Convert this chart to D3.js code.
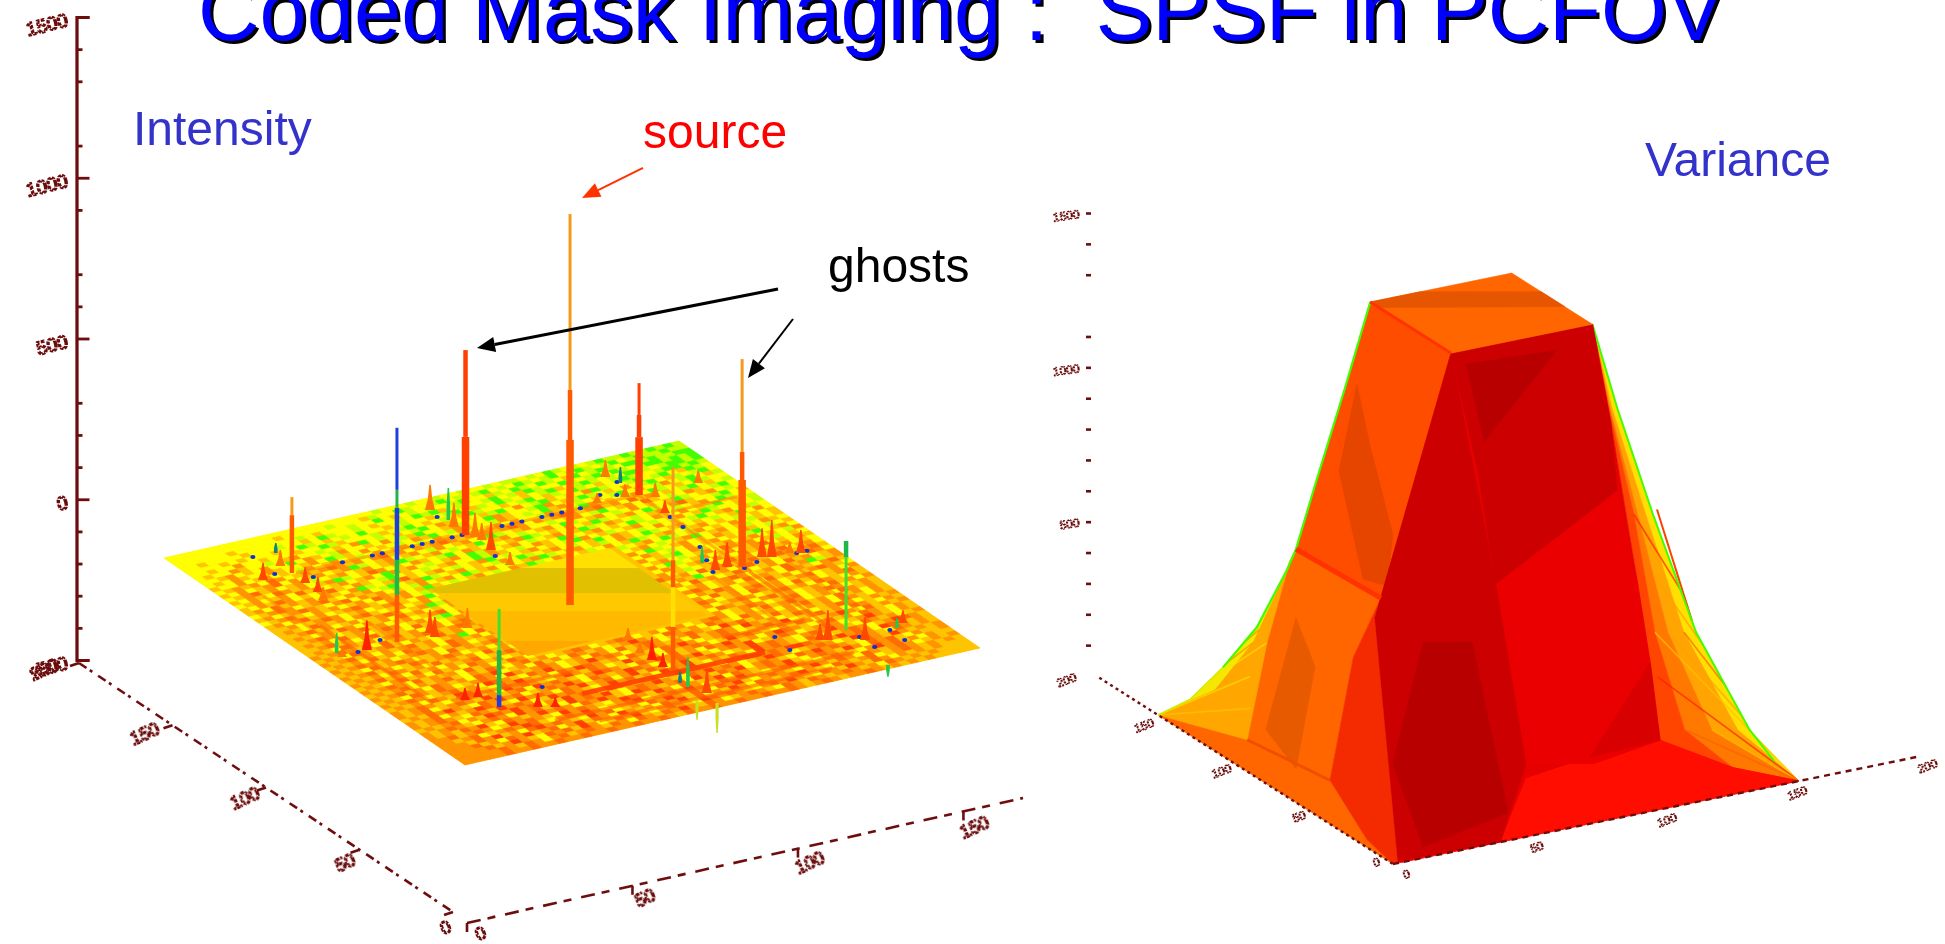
<!DOCTYPE html>
<html>
<head>
<meta charset="utf-8">
<title>Coded Mask Imaging</title>
<script src="https://cdn.jsdelivr.net/npm/d3@7"></script>
<style>
html, body { margin: 0; padding: 0; background: #fff; overflow: hidden; }
text { font-family: "Liberation Sans", Arial, sans-serif; white-space: pre; }
.tick-label { fill: none; stroke: #6a0c0c; stroke-linejoin: round; }
</style>
</head>
<body>
<svg id="chart" width="1945" height="944"></svg>
<script>
// ---- texts
var titleText = "Coded Mask Imaging :  SPSF in PCFOV";

// ---- intensity plot: axis values
var zMajor = [1500, 1000, 500, 0, -500];
var zMinor = [1400, 1300, 1100, 900, 700, 600, 300, 200, 100, -100, -200, -300, -400];
var uLabels = [0, 50, 100, 150, 200];
var vLabels = [0, 50, 100, 150];

// surface colour bins, one letter per cell.
// rows run from the far-left edge (u max) to the near-right edge (u 0), columns from v 0 to v max.
// the cell level speckle is only an estimate of the look, the picture is too blurred to read it
var surfaceRows = [
"yyyyyyyyyy yyyyyyyyyy yyyylyyyly ylyylyylyl lylyglylyl gllgllglgl",
"yyyyyyyyyy yyayyyyyly yyalyyglyy lgylylgyly glylgylgly lgylgllgll",
"yyyyyyayyy yyyylyayyy lyygyaylyl yylgyyalyg lyglyagylg lygglgllgg",
"yyayyyyayy ylyyayglyy lyayylyglg aylyylgyla glyyglylgy glylgglglg",
"yyyyayayyy ayyglyayly gyyaylyyay lgyalyglya ylgaylglyl ygglylgglg",
"yyayyoyyay yyayyglayy ylaylgyayl yaglyyaylg yalyglyayl glyylgglgl",
"yayyoayyly aoyylyayog ylyaylgyoa ylyalgyoyl gaylyoglyy lgylgyagly",
"yyaoyayoyy gyoayloyya yoylagyyao lyygoayylg oyalglyayo ylgyalylgy",
"yayoayyoay yaoyglayoy aylyoagylo ayyloaylyg aoylyaylgy ayloylgyal",
"ayyoyaoyay loyaoyalyo yaoylyoayo lyaoyoyylo aylgoyaylo yglyayglyy",
"yaoaoydoya oaodoaoyod aoyoaodoao yoaodoyoao doaodaoyda oyaylgyayl",
"ayoyaodyoy aoyaoglyao yaoyloyaoy aglyaoyyly aoylgyaoyd aylyoaylgy",
"yaodaoyaoy lyaoyaoyao glyaoylyag yaoylyaoyg lyaoylyoya yaglyaoyly",
"ayoaydoaoy aoglyadoya yoaylgyoay lyaoglyayo yaglyaoygl yodayylgya",
"yaoyaoydao yaoyaoygoa oylyaoyglo yaoylyaoya glyoaylyao ylyaoyglyy",
"ayoadoyayo dayoaylgya ylyaoyyglo aylyoaygly aoyayglyoa yoyalgyayl",
"aoydaoaoyo ayoglyaoda yaoylyaogy lyaoyaylgo yalyaoylya oyaglyyayl",
"yaodoyaoda yoaoylgyao glyaoyaylo yglyaoylya gyoaylyoya ylgyaoyaly",
"aoyaodoayo dyoaoyaylo yaoyglaoyl yaoglyaoya lyoayglyao yaylyagyoy",
"yaodayoaoy aoydoaoyag aylyaoylyo aglyoayaly oyaglyaoyl aoyaylyaya",
"aoyodaoyao doayoaoyla aaaaaaaaaa aaaaaaaaaa alyaoyglya oyayoylaya",
"aaoyaodoya oyaodayogy aaaaaaaaaa aaaaaaaaaa ayaoylyaog yaoyalyoay",
"aoaydoaoyo dayaoyaoya aaaaaaaaaa aaaaaaaaaa aoyglyaoya yoayoaylya",
"aaodaoyaoy aodoyaoglo aaaaaaaaaa aaaaaaaaaa ayoaylyoya oyaylgyaoy",
"aoayoadoyo aoydaoyayo aaaaaaaaaa aaaaaaaaaa aoyalgyoay aoyaoyaylo",
"aaodoyaoda oyaoyaodya aaaaaaaaaa aaaaaaaaaa ayaoylyaoy doaoyalyay",
"aoaoydaoya doyaoylgyo aaaaaaaaaa aaaaaaaaaa aoyglyaoya oyaodyayoa",
"aaodaoyoda oaydaoyaoa aaaaaaaaaa aaaaaaaaaa ayoayaoyoa ydaoyaoyay",
"aoaydoaoyo daoyaoyoda aaaaaaaaaa aaaaaaaaaa aoyalyaoyd aoyaodyaoy",
"oaodoaoyda oaodoaodoa aaaaaaaaaa aaaaaaaaaa doaoydaoda odaydoaoda",
"aoaydoaoda yoaydaoyao aaaaaaaaaa aaaaaaaaaa ayoagyaoyo daoyaoydoy",
"oaodaoyoao daoyaogyda aaaaaaaaaa aaaaaaaaaa aoydaoyado yaoydaoyao",
"aoaoydaoyd oaoydoaoyo aaaaaaaaaa aaaaaaaaaa ayaoyaodoy aoydaoglao",
"oaodoaoyao doyadoyaoa aaaaaaaaaa aaaaaaaaaa aodoyaoyda oaydoayoda",
"aoaydaodoy aoydaoaoda aaaaaaaaaa aaaaaaaaaa ayoadoyaoy daoyaodoay",
"oaodaoyado aodoyaoyoa aaaaaaaaaa aaaaaaaaaa aoydaoyoda oyaodyaoyo",
"aoaoydoaoy daoaoydaoy aaaaaaaaaa aaaaaaaaaa adoyaoydoa oydaoyaoda",
"oaodaoydao yoaodyaoda aaaaaaaaaa aaaaaaaaaa aoyaodoyao daoydoayoa",
"aoayodaoyd aoydoaoyao aaaaaaaaaa aaaaaaaaaa aydoaoyoda oyaoydaoyo",
"oaodoydaoa oydaoyadoy aaaaaaaaaa aaaaaaaaaa aoyaodoyao dyaodoyaoa",
"aoaodyoaod ayoadoyoda oyaodoyaod oyaoydoyao doyaoydaod oyaoydoaoa",
"oaodaoydoa oydoryaoyd aoydoaoyao roaydoaoyd oaydoaoyoa daoydaoyoa",
"aoaydoadoy aodoyroaod oyaoydoyda odoyaodoay rodaoydaoy oaoydoayoa",
"oaodoyaoda oyrdoaydor oyaorodoya odoaoydaod oyroaoyado yaodoyaoao",
"aoaoydoard oaydoroaoy dordoaoydo aydoroyaod oyaodoryao daoydoayoa",
"oaodoayord aoyrodoayo roadoyaroa oydaodoyar odoayoadoy aoroydaoao",
"oaodyaodoa roaodyrodo ayordoaydo rodaoydoro aoyordoayo daoydoayoa",
"aoadoroayd orodyaodor oydoaordoy aodorayodo ryaodoyaod oyaoroayoa",
"oaodyoaord oayrodoydo raodyorado yoraodoyao rodoayodor oaydoaoyao",
"oaodoaydoa rodoyarodo ayorodaoyr dorayoadoy rodoaydoya odoyaordoa",
"aoaodyoard orodyoarod oyrdoaodyo rodoaydorr odorrdoaor odoyrdoaoa",
"oaodoayodo yrodaoyrod orayodoroa ydorodoyao rdoyaodoya rdoaydoaoa",
"oaoadorayd oaorodoydo roayrdoaod yroadoryod oaydorodoa ydoaroaoao",
"oodaodoyar odoayrodoa yordoaroyd oaorydoaod orayodoaro ydodayoaao",
"ooaodyaodo rdayodoroy aodryaodor oyadoroayo droayodoay orodaoyoaa",
"oooadoraoy drodoayrod yaoydoroad oydorayodo ayoroadoyd oaodoyaoao",
"ooodaoydor aodyoradoy roaoydorad yoaroydoao droaydoaod yaodoaoaoa",
"oooodaoroa ydodaroyad orayodoayr dodoayodor oaydoaroad oyoaoaoaaa",
"ooooodoado yodaodoado ydoadoroad oyaodoaydo adoaodoaoy doaoaoaaaa",
"ooooodoodo odoodoodoo doodoadood oodoodoodo aodoaoodoa oaoaoaaaaa"
];

// flat centre square of the surface, and the levels of its colour bands
var flatCorners = [[107, 50], [107, 104], [55, 104], [55, 50]];
var flatBandTop = [-150, -214, -292, -348, -441];
var flatBandBottom = [-214, -292, -348, -441, -500];
var flatBandName = ["yellow", "olive", "gold", "amber", "deep"];

// ridges lying on the surface
var ridgeU0 = [134, 134, 26, 14, 8, 100, 100, 75, 75, 75, 40, 40, 125, 120];
var ridgeV0 = [25, 128, 50, 35, 45, 25, 13, 128, 118, 140, 20, 100, 10, 130];
var ridgeU1 = [134, 80, 26, 14, 8, 53, 40, 35, 35, 35, 40, 40, 90, 120];
var ridgeV1 = [128, 128, 105, 125, 115, 25, 13, 128, 118, 140, 55, 125, 10, 150];
var ridgeKind = ["soft", "soft", "strong", "mid", "mid", "soft", "mid", "mid", "soft", "soft", "mid", "mid", "soft", "soft"];

// the tall peaks: source and ghosts, each cut in segments from base to tip
var peakU = [79.1, 133.6, 78.4, 133.9, 80.5, 134.4, 29.2, 27.7, 28.1];
var peakV = [76.4, 75.8, 127.8, 128.2, 25.1, 24, 26.8, 78.3, 130.6];
var peakTops = [
	[513, 669, 1216],
	[305, 575],
	[271, 358, 647],
	[180, 249, 348],
	[146, 255, 417, 473, 666],
	[180, 236],
	[37, 177, 305],
	[134, 258, 342, 632],
	[227, 277]
];
var peakKinds = [
	["wo", "mo", "ta"],
	["wr", "mr"],
	["wo", "mo", "ta"],
	["wr", "mr", "tr"],
	["mo", "mg", "mb", "tg", "tb"],
	["mo", "ta"],
	["mb", "mg", "tG"],
	["mo", "my", "mo", "ta"],
	["tG", "mg"]
];

// the short peaks
var smallU = [152.8, 144.5, 139.8, 131.2, 128.5, 121.5, 110.3, 148.1, 140, 134.2, 126.8, 119.9, 114.6, 79.7, 82, 78.9, 81.3, 78.4, 79.3, 37.8, 37.8, 24.1, 21.8, 51.1, 42, 36.3, 30.8, 15.9, 9.9, 19.2, 148.8, 143.3, 134.6, 134.8, 130.6, 120, 133, 80.3, 80.4, 86.1, 81.6, 80.3, 80.3, 78.8, 24.7, 25.7, 19.8, 24.7, 22.6, 2.7, 7.2, 2.3];
var smallV = [76, 76.8, 75.8, 77.3, 77.8, 76.6, 76, 26.9, 23.7, 15.2, 23.7, 23.6, 22.2, 15.6, 7.8, 7.7, 35.5, 35.3, 45.6, 25.3, 21.4, 35.6, 39.5, 78, 76.4, 76.8, 77, 76.1, 78.4, 75.6, 126.5, 127.9, 124.4, 116.1, 131.2, 128.1, 145.5, 120.8, 124.4, 120.1, 135.6, 137.8, 143.2, 145.7, 123.2, 121.4, 131.6, 145.8, 142.8, 77.4, 73.9, 128.6];
var smallZ = [78, 100, 75, 75, 53, 87, 40, 31, 50, 53, 50, 47, 40, 93, 62, 31, 72, 62, 62, 44, 37, 44, 31, 37, 37, 72, 44, 93, 78, 37, 53, 50, 40, 31, 44, 40, 40, 62, 78, 50, 90, 115, 34, 72, 93, 50, 72, 40, 31, -93, -62, -37];
var smallCode = ["o","g","o","o","o","r","o","t","o","r","r","r","o","x","g","o","r","r","o","x","x","x","x","o","o","x","x","g","r","t","o","t","o","o","o","r","o","r","r","g","r","r","o","r","r","r","r","r","g","k","k","g"];

// blue pits
var pitU = [134, 134, 134, 134, 134, 134, 134, 134, 134, 134, 134, 134, 134, 134, 134, 117, 109.5, 95.7, 87, 79.4, 77.5, 79.4, 79.4, 79.3, 22.3, 14.5, 14.6, 22.3, 33.5, 23.9, 35.1, 148.8, 136.1, 129.2, 117.4, 147.8, 83.8, 79.8, 139, 136.9, 144.4];
var pitV = [39, 48, 51, 60, 63, 66, 72, 75, 87, 90, 93, 99, 102, 105, 110.6, 128, 127.6, 124.9, 122, 119.6, 128, 132.8, 144.8, 147.8, 131.4, 131.5, 140.6, 140.5, 112.2, 111.3, 43.1, 20.4, 19.8, 27.5, 75.6, 75.3, 21.9, 13, 119.3, 123.2, 127.5];

// ---- variance plot: axis values
var varZTicks = [1500, 1400, 1300, 1100, 1000, 900, 800, 700, 600, 500, 400, 300, 200, 100];
var varZLabels = [1500, 1000, 500];
var varULabels = [0, 50, 100, 150, 200];
var varVLabels = [0, 50, 100, 150, 200];

// variance surface as facets, vertices are [u, v, value]
var varPlate = [[110, 53, 1400], [110, 107, 1400], [55, 107, 1400], [55, 53, 1400]];
var varPlateBand = [[110, 53, 1400], [110, 72, 1400], [90, 107, 1400], [74, 107, 1400], [104, 53, 1400]];
var varLeftUpper = [[110, 53, 1400], [106.3, 41.2, 1150], [120.2, 37.6, 800], [121.7, 31.2, 600], [67.8, 33.4, 600], [55, 53, 1400]];
var varLeftStreak = [[108.4, 47, 1150], [115.4, 44.1, 850], [86.2, 36.9, 600], [76.6, 40.7, 600], [79.6, 44.6, 750], [84.4, 38.2, 1050]];
var varLeftLower = [[121.7, 31.2, 600], [124, 29.1, 530], [129.8, 20.8, 340], [137.9, 12.4, 200], [152.3, 7.9, 60], [160, 0, 0], [0, 0, 0], [21.4, 2.1, 10], [58.4, 8.7, 80], [94.3, 37.7, 320], [67.8, 33.4, 600]];
var varLowerStreak = [[116, 28, 400], [115.3, 16.1, 60], [83.5, 9.8, 40], [98.2, 25.3, 300]];
var varBaseStreak = [[117.6, 10.3, 30], [58.4, 8.7, 80]];
var varLeftRidge = [[67.8, 33.4, 600], [94.3, 37.7, 320], [58.4, 8.7, 80], [21.4, 2.1, 10], [0, 0, 0], [2, 3, 0], [65.6, 29.9, 550]];
var varLeftEdge = [[121.7, 31.2, 600], [124, 29.1, 530], [129.8, 20.8, 340], [137.9, 12.4, 200], [152.3, 7.9, 60], [160, 0, 0]];
var varLeftChain1 = [[121.1, 28.6, 570], [122.7, 27.6, 520], [128, 18.4, 300], [140.8, 11, 120], [160, 0, 0]];
var varLeftChain2 = [[121.1, 28.6, 570], [125.7, 22.4, 300], [117.6, 10.3, 30], [160, 0, 0]];
var varLeftFanEnds = [[125.7, 22.4, 300], [128, 18.4, 300], [122.7, 27.6, 520], [126, 16, 200], [125, 19, 350], [120, 13, 120]];
var varRightEdge = [[55, 107, 1400], [45.7, 111.2, 1150], [40.6, 122, 800], [25.3, 129.9, 450], [17.2, 145.8, 130], [0, 155, 0]];
var varRightChain1 = [[55, 107, 1400], [46.6, 109.7, 1150], [41.7, 119.9, 800], [27.3, 126.4, 450], [19.2, 142.4, 130], [0, 155, 0]];
var varRightChain2 = [[55, 107, 1400], [46.9, 109.1, 1150], [43.1, 117.6, 800], [30, 121.8, 450], [23.5, 134.9, 130], [0, 155, 0]];
var varRightChain3 = [[55, 107, 1400], [47, 108.8, 1150], [43.7, 116.5, 800], [32.1, 118, 450], [28, 127.1, 130], [16.7, 139.2, 20], [0, 155, 0]];
var varRightInner = [[55, 107, 1400], [46.7, 109.4, 1100], [27.7, 108.7, 650], [29.5, 115, 350], [36.1, 122.2, 80], [16.7, 139.2, 20], [0, 155, 0]];
var varRightFanEnds = [[30, 121.8, 450], [43.7, 116.5, 800], [32.1, 118, 450], [27.3, 126.4, 450], [36.8, 120, 620], [33, 119.5, 300], [23.5, 134.9, 130], [28, 127.1, 130]];
var varRightRim = [[43.9, 125.4, 800], [35.7, 134.1, 450]];
var varFront = [[55, 53, 1400], [55, 107, 1400], [46.7, 109.4, 1100], [27.7, 108.7, 650], [29.5, 115, 350], [36.1, 122.2, 80], [16.7, 139.2, 20], [0, 155, 0], [0, 0, 0], [2, 3, 0], [65.6, 29.9, 550], [67.8, 33.4, 600]];
var varFrontUpper = [[55, 53, 1400], [55, 107, 1400], [46.7, 109.4, 1100], [28.6, 101.6, 950], [47.9, 66.1, 650], [54.9, 63.2, 1000]];
var varFrontDark = [[56.1, 59.4, 1350], [52.4, 91.9, 1350], [65.3, 71.4, 1050]];
var varFrontBand = [[55, 53, 1400], [47.9, 66.1, 650], [8.8, 55.7, 200], [0, 41, 0], [2, 3, 0], [65.6, 29.9, 550]];
var varFrontPatch = [[50.2, 39.7, 500], [42.1, 53.8, 500], [12.6, 51, 40], [6.4, 15.1, 10], [30.9, 17.3, 200]];
var varFrontRight = [[47.9, 66.1, 650], [28.6, 101.6, 950], [27.7, 108.7, 650], [29.5, 115, 350], [36.1, 122.2, 80], [15.5, 85, 130], [23.7, 70.9, 130], [8.8, 55.7, 200]];
var varFrontRightDark = [[21.7, 87.4, 130], [36.1, 122.2, 80], [33, 116.6, 350]];
var varFrontBase = [[32.3, 68.9, 60], [21.7, 87.4, 130], [36.1, 122.2, 80], [16.7, 139.2, 20], [0, 155, 0], [0, 0, 0], [0, 41, 0]];
var varCrease = [[121.7, 31.2, 600], [67.8, 33.4, 600]];
var varPlateEdge = [[110, 53, 1400], [55, 53, 1400]];
var varGreenLeft = [[110, 53, 1400], [106.3, 41.2, 1150], [120.2, 37.6, 800], [121.7, 31.2, 600], [124, 29.1, 530], [129.8, 20.8, 340], [137.9, 12.4, 200]];
var varYellowLeft = [[137.9, 12.4, 200], [152.3, 7.9, 60], [160, 0, 0]];
var varGreenRight = [[55, 107, 1400], [45.7, 111.2, 1150], [40.6, 122, 800], [25.3, 129.9, 450], [17.2, 145.8, 130], [8, 150, 50]];

// ---- styles
var brown = "#6e0e0e";
var cellColor = { y: "#ffff00", l: "#c4ff00", g: "#40ff00", a: "#ffc400", o: "#ff9400", d: "#ff6c00", r: "#ff4000" };
var bandColor = { yellow: "#ffe000", olive: "#e0c000", gold: "#ffc800", amber: "#ffba00", deep: "#ffa800" };
var ridgeStyle = { soft: ["#ff8000", 3, 0.55], mid: ["#ff6000", 3.5, 0.6], strong: ["#ff4000", 5, 0.9] };
var peakWidth = { t: 3, m: 4.5, w: 7.5 };
var peakColor = { o: "#ff5a00", a: "#f59a1e", r: "#ff4000", b: "#1f3fe0", g: "#1fb848", G: "#3fe030", y: "#ffe000" };
var smallColor = { o: "#ff7800", r: "#ff4800", x: "#ff2400", g: "#20c850", t: "#148080", k: "#c8e020" };
var smallWidth = { g: 1.8, t: 1.8, k: 1.6 };

var svg = d3.select("#chart");
var defs = svg.append("defs");
defs.append("filter").attr("id", "soft").attr("x", "-5%").attr("y", "-5%").attr("width", "110%").attr("height", "110%")
	.append("feGaussianBlur").attr("stdDeviation", 0.7);
defs.append("filter").attr("id", "softer").attr("x", "-5%").attr("y", "-5%").attr("width", "110%").attr("height", "110%")
	.append("feGaussianBlur").attr("stdDeviation", 0.75);

// ---- intensity plot
var zAxisScale = d3.scaleLinear().domain([-500, 1500]).range([660, 17]);

// the surface is a tilted plane, so u, v and z each shift the screen position by their own scale
var ux = d3.scaleLinear().domain([0, 160]).range([465, 164]);
var uy = d3.scaleLinear().domain([0, 160]).range([0, -207]);
var vx = d3.scaleLinear().domain([0, 155]).range([0, 515]);
var vy = d3.scaleLinear().domain([0, 155]).range([765, 648]);
var zy = d3.scaleLinear().domain([0, 2000]).range([0, -643]);

function project(u, v, z) {
	return [ux(u) + vx(v), uy(u) + vy(v) + zy(z || 0)];
}
var line = d3.line();

var left = svg.append("g").attr("class", "intensity");

var surface = left.append("g").attr("filter", "url(#softer)");
var nRows = surfaceRows.length;

surface.append("path")
	.attr("d", line([project(160, 0), project(160, 155), project(0, 155), project(0, 0)]) + "Z")
	.attr("fill", cellColor.a);

var cells = [];
surfaceRows.forEach(function(row, i) {
	var codes = row.split(" ").join("").split("");
	codes.forEach(function(code, j) {
		if (!cellColor[code]) return;
		var u0 = 160 * (1 - i / nRows), u1 = 160 * (1 - (i + 1) / nRows);
		var v0 = 155 * j / codes.length, v1 = 155 * (j + 1) / codes.length;
		cells.push({ code: code, d: [project(u0, v0), project(u0, v1), project(u1, v1), project(u1, v0)] });
	});
});
surface.selectAll("path.cell").data(cells).enter().append("path")
	.attr("class", "cell")
	.attr("d", function(d) { return line(d.d) + "Z"; })
	.attr("fill", function(d) { return cellColor[d.code]; })
	.attr("stroke", function(d) { return cellColor[d.code]; })
	.attr("stroke-width", 0.6);

var ridges = d3.range(ridgeU0.length).map(function(i) {
	return { a: project(ridgeU0[i], ridgeV0[i]), b: project(ridgeU1[i], ridgeV1[i]), kind: ridgeKind[i] };
});
surface.selectAll("line.ridge").data(ridges).enter().append("line")
	.attr("class", "ridge")
	.attr("x1", function(d) { return d.a[0]; }).attr("y1", function(d) { return d.a[1]; })
	.attr("x2", function(d) { return d.b[0]; }).attr("y2", function(d) { return d.b[1]; })
	.attr("stroke", function(d) { return ridgeStyle[d.kind][0]; })
	.attr("stroke-width", function(d) { return ridgeStyle[d.kind][1]; })
	.attr("stroke-opacity", function(d) { return ridgeStyle[d.kind][2]; });

// flat centre with its horizontal colour bands
var flatClip = defs.append("clipPath").attr("id", "flat");
flatClip.append("path").attr("d", line(flatCorners.map(function(c) { return project(c[0], c[1]); })) + "Z");
left.append("g").attr("clip-path", "url(#flat)").attr("filter", "url(#soft)")
	.selectAll("rect").data(flatBandName).enter().append("rect")
	.attr("x", 400).attr("width", 340)
	.attr("y", function(d, i) { return zAxisScale(flatBandTop[i]); })
	.attr("height", function(d, i) { return zAxisScale(flatBandBottom[i]) - zAxisScale(flatBandTop[i]) + 1; })
	.attr("fill", function(d) { return bandColor[d]; });

var marks = left.append("g").attr("filter", "url(#soft)");

marks.selectAll("ellipse").data(d3.range(pitU.length)).enter().append("ellipse")
	.attr("cx", function(i) { return project(pitU[i], pitV[i])[0]; })
	.attr("cy", function(i) { return project(pitU[i], pitV[i])[1]; })
	.attr("rx", 2.6).attr("ry", 2)
	.attr("fill", "#1030d0");

// short peaks and tall peaks together, far ones first
var spikes = [];
d3.range(smallU.length).forEach(function(i) {
	var b = project(smallU[i], smallV[i], 0), t = project(smallU[i], smallV[i], smallZ[i]);
	var w = smallWidth[smallCode[i]] || 5;
	var my = b[1] + (t[1] - b[1]) * 0.45, mw = Math.min(w, 2.2);
	spikes.push({
		y: b[1],
		d: line([[b[0] - w, b[1]], [b[0] - mw, my], [b[0] - 0.7, t[1]], [b[0] + 0.7, t[1]], [b[0] + mw, my], [b[0] + w, b[1]]]) + "Z",
		color: smallColor[smallCode[i]]
	});
});
d3.range(peakU.length).forEach(function(i) {
	var prev = 0;
	peakTops[i].forEach(function(top, k) {
		var b = project(peakU[i], peakV[i], prev), t = project(peakU[i], peakV[i], top);
		var w = peakWidth[peakKinds[i][k][0]] / 2;
		spikes.push({
			y: project(peakU[i], peakV[i], 0)[1] + k * 0.01,
			d: line([[b[0] - w, b[1]], [b[0] - w, t[1]], [b[0] + w, t[1]], [b[0] + w, b[1]]]) + "Z",
			color: peakColor[peakKinds[i][k][1]]
		});
		prev = top;
	});
});
spikes.sort(function(a, b) { return a.y - b.y; });
marks.selectAll("path.spike").data(spikes).enter().append("path")
	.attr("class", "spike")
	.attr("d", function(d) { return d.d; })
	.attr("fill", function(d) { return d.color; });

// axes
var axes = left.append("g").attr("filter", "url(#soft)");
var zAxisMinor = d3.axisRight(zAxisScale).tickValues(zMinor).tickSize(6).tickFormat("");
var zAxisMajor = d3.axisRight(zAxisScale).tickValues(zMajor).tickSize(13).tickFormat("");
axes.append("g").attr("transform", "translate(76.5,0)").call(zAxisMinor);
axes.append("g").attr("transform", "translate(76.5,0)").call(zAxisMajor);
axes.selectAll(".domain").attr("stroke", brown).attr("stroke-width", 2.8);
axes.selectAll(".tick line").attr("stroke", brown).attr("stroke-width", 2.8);

var axisUx = d3.scaleLinear().domain([0, 200]).range([453, 79]);
var axisUy = d3.scaleLinear().domain([0, 200]).range([912, 663]);
var axisVx = d3.scaleLinear().domain([0, 168]).range([467, 1023]);
var axisVy = d3.scaleLinear().domain([0, 168]).range([923, 798]);
axes.append("line")
	.attr("x1", axisUx(200)).attr("y1", axisUy(200)).attr("x2", axisUx(0)).attr("y2", axisUy(0))
	.attr("stroke", brown).attr("stroke-width", 2.6).attr("stroke-dasharray", "9 4 3 7");
axes.append("line")
	.attr("x1", axisVx(0)).attr("y1", axisVy(0)).attr("x2", axisVx(168)).attr("y2", axisVy(168))
	.attr("stroke", brown).attr("stroke-width", 2.6).attr("stroke-dasharray", "14 7 8 10");
axes.selectAll("line.utick").data(uLabels).enter().append("line")
	.attr("class", "utick")
	.attr("x1", function(d) { return axisUx(d); }).attr("y1", function(d) { return axisUy(d); })
	.attr("x2", function(d) { return axisUx(d) - 9; }).attr("y2", function(d) { return axisUy(d) + 3; })
	.attr("stroke", brown).attr("stroke-width", 2.6);
axes.selectAll("line.vtick").data(vLabels).enter().append("line")
	.attr("class", "vtick")
	.attr("x1", function(d) { return axisVx(d); }).attr("y1", function(d) { return axisVy(d); })
	.attr("x2", function(d) { return axisVx(d); }).attr("y2", function(d) { return axisVy(d) + 9; })
	.attr("stroke", brown).attr("stroke-width", 2.6);

function tickLabels(parent, values, x, y, anchor, angle, size) {
	parent.selectAll(null).data(values).enter().append("text")
		.attr("class", "tick-label")
		.attr("text-anchor", anchor)
		.attr("font-size", size)
		.attr("stroke-width", size > 14 ? 1.8 : 1.1)
		.attr("stroke-dasharray", size > 14 ? "3.5 1.2" : "2 1")
		.attr("transform", function(d) { return "translate(" + x(d) + "," + y(d) + ") rotate(" + angle + ")"; })
		.text(function(d) { return d; });
}

tickLabels(left, zMajor, function() { return 69; }, function(d) { return zAxisScale(d) + 9; }, "end", -14, 19);
var labelUx = d3.scaleLinear().domain([0, 200]).range([448, 47]);
var labelUy = d3.scaleLinear().domain([0, 200]).range([933, 675]);
tickLabels(left, uLabels, labelUx, labelUy, "middle", -24, 18);
var labelVx = d3.scaleLinear().domain([0, 150]).range([483, 977]);
var labelVy = d3.scaleLinear().domain([0, 150]).range([939, 833]);
tickLabels(left, vLabels, labelVx, labelVy, "middle", -24, 18);

// ---- variance plot
var rux = d3.scaleLinear().domain([0, 160]).range([1393, 1158]);
var ruy = d3.scaleLinear().domain([0, 160]).range([0, -149]);
var rvx = d3.scaleLinear().domain([0, 155]).range([0, 406]);
var rvy = d3.scaleLinear().domain([0, 155]).range([864, 781]);
var rzy = d3.scaleLinear().domain([0, 1500]).range([0, -462]);
function projectVar(p) {
	return [rux(p[0]) + rvx(p[1]), ruy(p[0]) + rvy(p[1]) + rzy(p[2])];
}
var right = svg.append("g").attr("class", "variance");
var shape = right.append("g").attr("filter", "url(#soft)");

function facet(points, color) {
	shape.append("path").attr("d", line(points.map(projectVar)) + "Z").attr("fill", color).attr("stroke", color).attr("stroke-width", 0.6);
}
function edge(points, color, width, opacity) {
	shape.append("path").attr("d", line(points.map(projectVar))).attr("fill", "none").attr("stroke", color)
		.attr("stroke-width", width).attr("stroke-opacity", opacity === undefined ? 1 : opacity);
}
// thin streaks running out of a base corner, kept inside the flank they lie on
function fan(id, outline, corner, ends, colors, width) {
	defs.append("clipPath").attr("id", id).append("path").attr("d", line(outline.map(projectVar)) + "Z");
	var g = shape.append("g").attr("clip-path", "url(#" + id + ")");
	ends.forEach(function(e, i) {
		g.append("path").attr("d", line([corner, e].map(projectVar)))
			.attr("fill", "none").attr("stroke", colors[i % colors.length])
			.attr("stroke-width", width).attr("stroke-opacity", 0.7);
	});
}

// right flank, drawn as strips from the rim inwards
facet(varRightEdge.concat(varRightChain1.slice().reverse()), "#ffe000");
facet(varRightChain1.concat(varRightChain2.slice().reverse()), "#ffa400");
facet(varRightChain2.concat(varRightChain3.slice().reverse()), "#ff7800");
facet(varRightChain3.concat(varRightInner.slice().reverse()), "#ff4400");
fan("rightFlank", varRightEdge.concat(varRightInner.slice().reverse()), [0, 155, 0], varRightFanEnds, ["#ffa000", "#ff2000", "#ffc000", "#ff6000"], 1.6);
edge(varRightRim, "#ff4000", 2);
edge(varGreenRight, "#40ff00", 2);

// left flank
facet(varLeftUpper, "#ff4d00");
facet(varLeftStreak, "#e64500");
facet(varLeftLower, "#ff6600");
facet(varLowerStreak, "#e85a00");
facet(varLeftEdge.concat(varLeftChain1.slice().reverse()), "#f4e800");
facet(varLeftChain1.concat(varLeftChain2.slice().reverse()), "#ffa600");
fan("leftFlank", varLeftEdge.concat(varLeftChain2.slice().reverse()), [160, 0, 0], varLeftFanEnds, ["#ffe000", "#ff8c00", "#ffc400"], 1.6);
edge(varBaseStreak, "#f05000", 3);
edge(varGreenLeft, "#40ff00", 2.2);
edge(varYellowLeft, "#d0f000", 1.6);

// front
facet(varFront, "#e60000");
facet(varLeftRidge, "#f42a00");
facet(varFrontBase, "#ff0c00");
facet(varFrontRight, "#ea0000");
facet(varFrontRightDark, "#d80000");
facet(varFrontBand, "#cc0000");
facet(varFrontPatch, "#b80000");
facet(varFrontUpper, "#cc0000");
facet(varFrontDark, "#b80000");

// top
facet(varPlate, "#ff6600");
facet(varPlateBand, "#e65500");
edge(varCrease, "#ff3300", 5);
edge(varPlateEdge, "#ff3300", 3);

var rzAxisScale = d3.scaleLinear().domain([0, 1500]).range([676, 213]);
var rAxes = right.append("g").attr("filter", "url(#soft)");
var rzAxis = d3.axisRight(rzAxisScale).tickValues(varZTicks).tickSize(5).tickFormat("");
rAxes.append("g").attr("transform", "translate(1086,0)").call(rzAxis);
rAxes.selectAll(".domain").remove();
rAxes.selectAll(".tick line").attr("stroke", brown).attr("stroke-width", 2.6);
edgeDashed([[200, 0, 0], [0, 0, 0]], "3 3.5");
edgeDashed([[0, 0, 0], [0, 200, 0]], "6 5");
function edgeDashed(points, dash) {
	rAxes.append("path").attr("d", line(points.map(projectVar))).attr("fill", "none")
		.attr("stroke", brown).attr("stroke-width", 2.4).attr("stroke-dasharray", dash);
}
tickLabels(right, varZLabels, function() { return 1080; }, function(d) { return rzAxisScale(d) + 5; }, "end", -8, 12);
var rLabelUx = d3.scaleLinear().domain([0, 200]).range([1378, 1068]);
var rLabelUy = d3.scaleLinear().domain([0, 200]).range([866, 684]);
tickLabels(right, varULabels, rLabelUx, rLabelUy, "middle", -20, 12);
var rLabelVx = d3.scaleLinear().domain([0, 200]).range([1408, 1929]);
var rLabelVy = d3.scaleLinear().domain([0, 200]).range([878, 770]);
tickLabels(right, varVLabels, rLabelVx, rLabelVy, "middle", -20, 12);

// ---- title and notes
var title = svg.append("g").attr("font-size", 85);
title.append("text").attr("x", 201).attr("y", 43).attr("fill", "#000").text(titleText);
title.append("text").attr("x", 198).attr("y", 40).attr("fill", "#0000ff").text(titleText);

function note(x, y, text, color) {
	svg.append("text").attr("x", x).attr("y", y).attr("font-size", 48).attr("fill", color).text(text);
}
note(133, 145, "Intensity", "#3333cc");
note(643, 148, "source", "#ff0000");
note(828, 282, "ghosts", "#000000");
note(1645, 176, "Variance", "#3333cc");

function arrow(x0, y0, x1, y1, color, width, head) {
	var a = Math.atan2(y1 - y0, x1 - x0);
	var bx = x1 - head * Math.cos(a), by = y1 - head * Math.sin(a);
	svg.append("line").attr("x1", x0).attr("y1", y0).attr("x2", bx).attr("y2", by)
		.attr("stroke", color).attr("stroke-width", width);
	var s = head * 0.42;
	svg.append("path").attr("fill", color)
		.attr("d", line([[x1, y1], [bx - s * Math.sin(a), by + s * Math.cos(a)], [bx + s * Math.sin(a), by - s * Math.cos(a)]]) + "Z");
}
arrow(643, 168, 582, 198, "#ff3300", 2, 18);
arrow(778, 289, 477, 348, "#000000", 3, 18);
arrow(793, 319, 748, 378, "#000000", 2, 18);
</script>
</body>
</html>
